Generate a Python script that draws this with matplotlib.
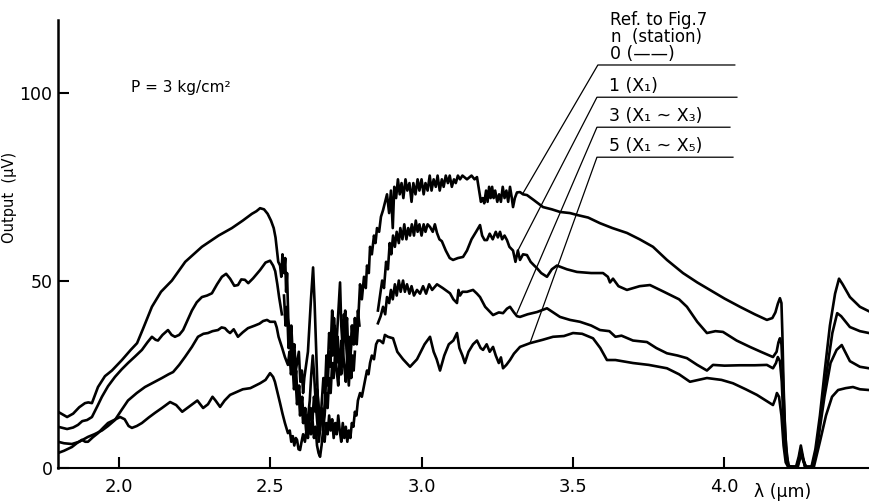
import numpy as np
import matplotlib
matplotlib.use("Agg")
import matplotlib.pyplot as plt

nan = np.nan

# output (uV) vs wavelength (um), one list per station count
n0 = [(1.800,15.0),(1.830,13.6),(1.850,14.5),(1.870,16.2),(1.889,17.3),(1.900,17.5),(1.912,17.3),(1.932,21.6),(1.955,24.5),(1.978,26.0),(2.011,28.8),(2.040,31.5),(2.061,33.3),(2.080,37.0),(2.110,43.0),(2.140,47.0),(2.176,50.0),(2.220,55.0),(2.275,59.0),(2.330,62.0),(2.374,64.0),(2.410,66.0),(2.440,67.8),(2.455,68.5),(2.467,69.3),(2.480,69.0),(2.492,67.8),(2.503,66.0),(2.512,64.0),(2.518,61.5),(2.523,58.0),(2.527,55.0),
      (2.533,54),(2.537,51),(2.541,57),(2.546,52),(2.550,56),(2.553,47),(2.556,52),(2.560,40),(2.566,34),(2.570,38),(2.575,30),(2.580,33),(2.585,26),(2.589,28),(2.595,31),(2.600,23),(2.605,26),(2.609,20),(2.613,24),(2.618,27),(2.625,31),(2.630,38),(2.635,45),(2.642,53.5),(2.647,44),(2.652,32),(2.657,20),(2.662,10),(2.666,12),(2.671,18),(2.676,24),(2.681,20),(2.686,30),(2.690,26),(2.695,36),(2.700,32),(2.705,42),(2.709,35),(2.713,38),(2.717,30),(2.722,37),(2.727,44),(2.731,49.5),(2.735,38),(2.739,33),(2.744,41),(2.749,36),(2.754,40),(2.758,31),(2.763,27),(2.768,33),(2.773,38),(2.777,33),(2.781,37),(2.786,33),(2.790,38),(2.797,49),(2.803,45),(2.810,51),(2.816,48),(2.820,54),(2.826,52),(2.830,59),(2.836,57),(2.843,62),(2.848,60),(2.853,64),(2.860,63),(2.866,67),(2.873,68.8),(2.880,71),(2.886,73),
      (2.893,68),(2.899,74),(2.905,64),(2.910,75),(2.916,72),(2.922,77),(2.928,73),(2.934,76),(2.940,72),(2.947,77),(2.953,74),(2.960,76),(2.967,71),(2.973,76),(2.980,73),(2.987,77),(2.993,74),(3.000,77),(3.007,73),(3.013,76),(3.020,74),(3.027,78),(3.033,74),(3.040,77),(3.047,75),(3.053,78),(3.060,74),(3.067,77),(3.073,75),(3.080,78),(3.087,76),(3.093,78),(3.100,75),(3.107,77),(3.113,76),(3.120,78),(3.127,77),(3.135,78),(3.150,77),(3.165,78),(3.175,77),(3.183,77.6),(3.190,74),(3.196,71),(3.202,72),(3.207,70.6),(3.213,74),(3.218,71),(3.223,75),(3.228,72),(3.233,75),(3.238,72),(3.243,74),(3.250,71),(3.256,73),(3.262,71),(3.268,75),(3.274,72),(3.280,74),(3.286,71),(3.292,75),(3.298,72),(3.302,69.6),(3.308,72),(3.315,73.5),(3.325,73.6),(3.335,73.0),(3.348,72.8),(3.370,71.5),(3.401,69.6),(3.430,69.0),(3.457,68.3),(3.490,68.0),(3.513,67.5),(3.550,66.8),(3.589,65.3),(3.630,64.0),(3.678,62.7),(3.720,61.0),(3.764,59.0),(3.810,55.5),(3.863,52.0),(3.910,49.5),(3.952,47.5),(4.000,45.2),(4.051,43.0),(4.100,41.0),(4.140,39.5),(4.158,40.0),(4.168,41.5),(4.176,43.8),(4.183,45.3),(4.188,44.0),(4.191,36.0),(4.195,22.0),(4.200,10.0),(4.206,3.0),(4.213,0.3),(4.236,0.3),(4.245,3.0),(4.252,6.0),(4.259,3.0),(4.266,0.3),(4.287,0.3),(4.300,5.0),(4.315,14.0),(4.331,26.0),(4.348,38.0),(4.365,46.5),(4.378,50.5),(4.390,49.0),(4.414,45.6),(4.447,43.0),(4.477,41.8)]

n1 = [(1.800,11.0),(1.830,10.4),(1.850,10.8),(1.866,11.5),(1.880,12.5),(1.896,12.8),(1.912,13.6),(1.930,16.5),(1.945,19.0),(1.965,21.8),(1.988,24.3),(2.010,26.3),(2.031,28.0),(2.055,29.8),(2.077,31.5),(2.095,33.5),(2.110,35.0),(2.122,34.2),(2.130,34.0),(2.145,35.5),(2.163,36.8),(2.175,35.5),(2.186,35.0),(2.200,35.5),(2.213,36.8),(2.228,39.5),(2.242,42.0),(2.258,44.2),(2.275,45.6),(2.292,46.0),(2.308,46.6),(2.325,49.0),(2.341,51.0),(2.355,51.8),(2.368,50.5),(2.382,48.6),(2.394,48.8),(2.405,50.3),(2.417,50.2),(2.428,49.3),(2.444,50.6),(2.467,52.8),(2.485,54.8),(2.500,55.3),(2.510,54.0),(2.517,52.5),(2.524,49.0),(2.530,45.5),(2.535,43.0),(2.539,41.0),(nan,nan),
      (2.546,46),(2.551,38),(2.556,43),(2.561,32),(2.566,36),(2.571,27),(2.576,31),(2.581,22),(2.586,26),(2.591,18),(2.596,22),(2.601,15),(2.606,19),(2.611,12),(2.616,16),(2.621,10),(2.626,14),(2.631,18),(2.636,25),(2.641,30),(2.646,24),(2.651,17),(2.656,12),(2.661,7),(2.666,11),(2.671,15),(2.676,12),(2.681,18),(2.686,25),(2.690,22),(2.695,31),(2.699,27),(2.703,36),(2.707,30),(2.711,40),(2.715,33),(2.719,28),(2.723,35),(2.728,30),(2.732,25),(2.736,34),(2.740,29),(2.744,36),(2.748,42),(2.752,32),(2.756,27),(2.760,22),(2.764,28),(2.768,24),(2.772,30),(2.776,26),(2.780,31),(nan,nan),
      (2.856,42.0),(2.863,46),(2.870,50),(2.876,48),(2.883,55),(2.889,53),(2.895,60),(2.900,57),(2.906,62),(2.912,59),(2.918,63),(2.925,60),(2.930,64),(2.937,61),(2.943,65),(2.950,61),(2.956,64),(2.962,62),(2.968,65),(2.975,62),(2.981,66),(2.987,63),(2.993,65),(3.000,62),(3.007,65),(3.013,63),(3.020,65),(3.028,64.3),(3.037,63),(3.044,65),(3.051,62.7),(3.059,61),(3.067,60.5),(3.080,58),(3.093,56),(3.104,55.5),(3.120,56),(3.137,56.3),(3.150,58),(3.165,61),(3.180,63),(3.193,64.8),(3.200,62),(3.208,60.8),(3.216,60.8),(3.225,62.5),(3.235,61),(3.245,63),(3.252,61.5),(3.259,63),(3.266,61),(3.274,62),(3.282,60.8),(3.290,59),(3.302,58),(3.310,55),(3.318,58),(3.325,55.5),(3.335,57),(3.348,56.8),(3.360,55),(3.372,54),(3.381,53.3),(3.395,52),(3.414,51),(3.430,53),(3.447,54),(3.480,53),(3.513,52.3),(3.560,52),(3.599,52),(3.615,51),(3.622,49.5),(3.632,50.5),(3.650,48.5),(3.678,47.5),(3.720,48.5),(3.754,48.8),(3.800,47),(3.850,45),(3.876,43),(3.910,39),(3.942,36),(3.970,36.5),(3.995,36.3),(4.040,34),(4.084,32.3),(4.120,31),(4.160,29.6),(4.172,31),(4.178,33.5),(4.183,34.6),(4.188,33),(4.192,26),(4.197,15),(4.203,6),(4.210,1),(4.216,0.3),(4.238,0.3),(4.246,2.5),(4.252,5.0),(4.258,2.5),(4.266,0.3),(4.290,0.3),(4.305,6),(4.320,15),(4.338,26),(4.356,36),(4.372,41.3),(4.385,40.5),(4.414,37.6),(4.447,36.5),(4.477,36.0)]

n3 = [(1.800,7.0),(1.820,6.6),(1.846,6.4),(1.870,7.0),(1.899,8.3),(1.920,9.0),(1.945,10.0),(1.965,11.2),(1.988,12.8),(2.010,15.5),(2.031,18.0),(2.060,20.0),(2.087,21.6),(2.115,22.8),(2.143,24.0),(2.165,25.0),(2.180,25.6),(2.200,27.5),(2.219,29.6),(2.242,32.3),(2.262,35.0),(2.280,35.8),(2.295,36.0),(2.310,36.5),(2.328,36.8),(2.340,37.5),(2.351,37.3),(2.360,36.5),(2.368,36.0),(2.380,37.0),(2.394,35.0),(2.410,36.2),(2.427,37.3),(2.450,38.0),(2.465,38.5),(2.477,39.2),(2.490,39.5),(2.500,39.0),(2.516,39.0),(2.522,37.5),(2.528,35.0),(2.540,32.0),(2.549,29.6),(2.559,27.5),
      (2.564,31),(2.569,25),(2.574,28),(2.579,21),(2.584,24),(2.589,17),(2.594,21),(2.599,14),(2.604,18),(2.609,12),(2.614,15),(2.619,10),(2.624,14),(2.629,11),(2.634,16),(2.640,13),(2.645,19),(2.650,15),(2.655,21),(2.660,17),(2.665,12),(2.670,16),(2.675,10),(2.680,14),(2.685,20),(2.690,16),(2.695,24),(2.700,20),(2.705,28),(2.710,24),(2.715,31),(2.720,26),(2.725,22),(2.730,29),(2.735,25),(2.740,32),(2.745,27),(2.750,23),(2.755,30),(2.760,35),(2.765,30),(2.770,38),(2.775,33),(2.780,40),(2.785,35),(2.790,42),(2.795,38),(nan,nan),
      (2.856,38.6),(2.865,40.5),(2.873,43),(2.880,41),(2.886,45.6),(2.893,44),(2.899,47.5),(2.905,45),(2.912,49),(2.918,46),(2.925,50),(2.931,47),(2.939,50),(2.945,47),(2.952,49),(2.960,46.5),(2.967,48.5),(2.975,46),(2.985,47.5),(2.995,46.5),(3.005,48.5),(3.015,46.5),(3.025,49),(3.035,47.5),(3.051,49),(3.070,48),(3.094,46.6),(3.105,45),(3.117,44),(3.122,47.5),(3.127,46),(3.135,47),(3.150,47),(3.170,47.5),(3.183,46.5),(3.193,45.6),(3.210,43),(3.236,40.8),(3.255,41.5),(3.269,41.3),(3.282,42.5),(3.292,43),(3.305,41.5),(3.315,40.5),(3.325,40.3),(3.350,41),(3.381,41.6),(3.414,42.6),(3.457,40.3),(3.490,39.5),(3.523,39),(3.560,38),(3.589,36.8),(3.620,36.5),(3.640,35),(3.660,35.3),(3.698,34),(3.744,33.6),(3.775,32),(3.810,30.6),(3.845,30),(3.876,29.3),(3.910,27.5),(3.942,26),(3.962,27.5),(4.000,27.3),(4.050,27.4),(4.100,27.4),(4.140,27.5),(4.160,26.6),(4.170,28),(4.176,29.6),(4.183,28.5),(4.189,23),(4.195,12),(4.202,4),(4.210,0.5),(4.240,0.3),(4.248,2.5),(4.253,4.5),(4.259,2.5),(4.268,0.3),(4.292,0.3),(4.310,8),(4.330,19),(4.350,28),(4.370,31.5),(4.387,32.8),(4.395,31.5),(4.414,28.5),(4.447,27),(4.477,26.6)]

n5 = [(1.800,4.0),(1.820,4.6),(1.846,5.6),(1.865,6.8),(1.879,7.5),(1.890,7.0),(1.899,7.0),(1.915,8.2),(1.932,9.3),(1.950,10.8),(1.965,12.0),(1.990,13.0),(2.005,13.6),(2.020,13.0),(2.033,11.2),(2.044,10.7),(2.060,11.2),(2.077,12.0),(2.100,13.5),(2.120,14.7),(2.143,16.0),(2.170,17.6),(2.190,16.8),(2.210,15.0),(2.235,16.5),(2.260,18.0),(2.279,16.0),(2.295,17.0),(2.310,19.0),(2.320,18.0),(2.335,16.3),(2.350,18.0),(2.368,19.5),(2.390,20.3),(2.410,21.0),(2.435,21.3),(2.467,22.6),(2.485,23.5),(2.500,25.3),(2.510,24.3),(2.516,23.0),(2.525,20.0),(2.533,17.3),(2.541,14.5),(2.549,12.0),(2.559,9.3),
      (2.565,10),(2.570,7),(2.575,8.5),(2.580,6),(2.585,8),(2.589,7.5),(2.594,5),(2.599,4.8),(2.604,7),(2.609,9),(2.615,7),(2.620,10),(2.625,8),(2.630,12),(2.635,9),(2.640,13),(2.645,8),(2.650,11),(2.655,6),(2.660,4),(2.665,3),(2.670,6),(2.675,10),(2.680,7),(2.685,12),(2.690,9),(2.695,14),(2.700,10),(2.705,13),(2.710,8),(2.715,12),(2.720,9),(2.725,14),(2.730,10),(2.735,7),(2.740,12),(2.745,8),(2.750,11),(2.755,7),(2.760,10),(2.765,8),(2.770,12),(2.775,11),(2.780,15),(2.785,14),(2.790,18),(2.797,20),(2.803,19),(2.810,22),(2.815,24),(2.820,26),(2.825,25),(2.830,28),(2.836,30),(2.843,29),(2.850,33),(2.856,34),(2.863,34),(2.873,33.3),(2.879,35.5),(2.889,35),(2.906,34.6),(2.920,31),(2.939,29),(2.962,27),(2.985,29),(3.010,33),(3.028,35),(3.040,31),(3.050,29),(3.061,26),(3.075,30),(3.090,33),(3.105,34),(3.117,36),(3.125,32),(3.135,30),(3.143,28),(3.155,31),(3.170,33),(3.183,34),(3.195,32),(3.203,31.5),(3.215,33),(3.225,31),(3.236,32.3),(3.245,30),(3.255,28),(3.262,29.5),(3.269,26.6),(3.280,27.5),(3.292,28.8),(3.305,30.5),(3.325,32.3),(3.358,33.3),(3.400,34.2),(3.434,35),(3.470,35.2),(3.500,36),(3.530,35.8),(3.566,34.6),(3.590,32),(3.612,28.8),(3.640,28.8),(3.698,28),(3.750,27.5),(3.810,26.6),(3.850,25),(3.886,23),(3.942,24),(3.990,23.5),(4.028,22.6),(4.070,21),(4.107,19.5),(4.140,17.8),(4.160,16.8),(4.168,18.5),(4.173,20.0),(4.180,19),(4.188,14),(4.195,6),(4.202,1.5),(4.210,0.3),(4.242,0.3),(4.249,2.5),(4.254,4),(4.260,2),(4.270,0.3),(4.295,0.3),(4.315,7),(4.335,14),(4.355,19),(4.375,20.8),(4.400,21.3),(4.424,21.6),(4.447,21.0),(4.477,20.8)]

curves = [n0, n1, n3, n5]
labels = ["0 (\u2014\u2014)", "1 (X\u2081)", "3 (X\u2081 ~ X\u2083)", "5 (X\u2081 ~ X\u2085)"]
# leader: label-line left end, point on the curve, label-line right end
label_y = [107.5, 98.9, 90.9, 82.9]
label_x0 = [3.582, 3.579, 3.579, 3.579]
label_x1 = [4.034, 4.041, 4.018, 4.028]
curve_pts = [(3.335, 73.3), (3.318, 58.0), (3.315, 41.3), (3.358, 33.3)]

xticks = [2.0, 2.5, 3.0, 3.5, 4.0]
yticks = [0, 50, 100]

fig = plt.figure(figsize=(8.69, 5.03), dpi=100)
ax = fig.add_axes([58/869, 35/503, 811/869, 448/503])

for pts in curves:
    a = np.array(pts, dtype=float)
    ax.plot(a[:, 0], a[:, 1], color="black", lw=1.9, solid_joinstyle="round")

for lab, y, x0, x1, (cx, cy) in zip(labels, label_y, label_x0, label_x1, curve_pts):
    ax.plot([cx, x0, x1], [cy, y, y], color="black", lw=0.9, clip_on=False)
    ax.text(x0 + 0.04, y + 0.5, lab, fontsize=12.5, va="bottom", ha="left")

ax.text(3.622, 119.5, "Ref. to Fig.7", fontsize=12, va="center", ha="left")
ax.text(3.625, 115.0, "n  (station)", fontsize=12, va="center", ha="left")
ax.text(2.206, 101.6, "P = 3 kg/cm\u00b2", fontsize=11, va="center", ha="center")

ax.set_xlim(1.8, 4.477)
ax.set_ylim(0, 119.5)
ax.set_xticks(xticks)
ax.set_xticklabels([f"{t:.1f}" for t in xticks])
ax.set_yticks(yticks)
ax.set_yticklabels([str(t) for t in yticks])

for s in ["top", "right"]:
    ax.spines[s].set_visible(False)
ax.spines["left"].set_linewidth(1.8)
ax.spines["bottom"].set_linewidth(1.5)
ax.tick_params(axis="both", direction="in", length=8, width=1.5, labelsize=12.5)
ax.tick_params(axis="x", pad=7, labelsize=13)
ax.tick_params(axis="y", pad=4)

ax.set_ylabel("Output  (\u03bcV)", fontsize=10.5)
ax.yaxis.set_label_coords(-0.05, 0.605)
ax.text(0.894, -0.054, "\u03bb (\u03bcm)", transform=ax.transAxes, fontsize=12.5,
        ha="center", va="center")

fig.savefig("out.png", dpi=100)
